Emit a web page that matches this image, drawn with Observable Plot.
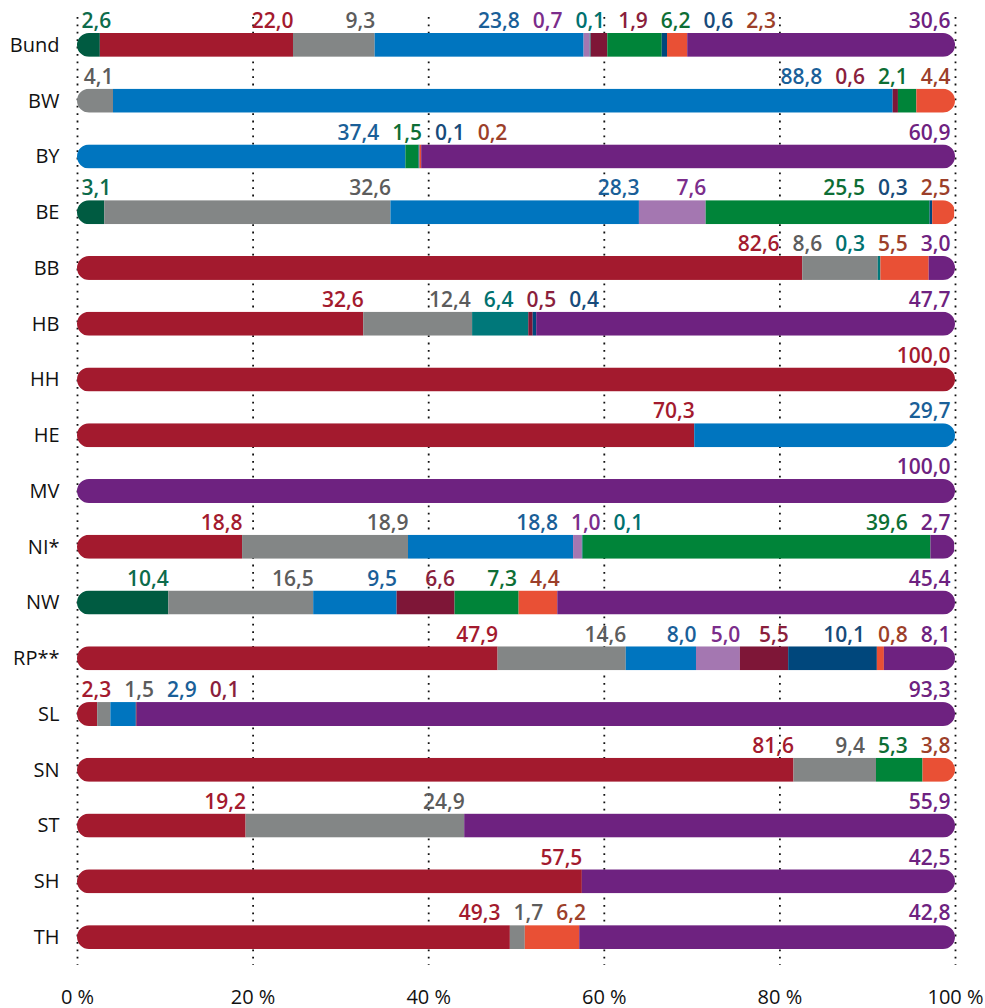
<!DOCTYPE html>
<html>
<head>
<meta charset="utf-8">
<script src="https://cdn.jsdelivr.net/npm/d3@7"></script>
<script src="https://cdn.jsdelivr.net/npm/@observablehq/plot@0.6"></script>
<style>
  html, body { margin: 0; padding: 0; background: #fff; }
  #chart { width: 985px; height: 1008px; }
</style>
</head>
<body>
<div id="chart"></div>
<script>
// ---------- data ----------
const states = ["Bund","BW","BY","BE","BB","HB","HH","HE","MV","NI*","NW","RP**","SL","SN","ST","SH","TH"];

// one array per series (share in %), in stacking order, null = not present
const sDunkelgruen = [2.6, null, null, 3.1, null, null, null, null, null, null, 10.4, null, null, null, null, null, null];
const sRot         = [22.0, null, null, null, 82.6, 32.6, 100.0, 70.3, null, 18.8, null, 47.9, 2.3, 81.6, 19.2, 57.5, 49.3];
const sGrau        = [9.3, 4.1, null, 32.6, 8.6, 12.4, null, null, null, 18.9, 16.5, 14.6, 1.5, 9.4, 24.9, null, 1.7];
const sBlau        = [23.8, 88.8, 37.4, 28.3, null, null, null, 29.7, null, 18.8, 9.5, 8.0, 2.9, null, null, null, null];
const sHelllila    = [0.7, null, null, 7.6, null, null, null, null, null, 1.0, null, 5.0, null, null, null, null, null];
const sPetrol      = [0.1, null, null, null, 0.3, 6.4, null, null, null, 0.1, null, null, null, null, null, null, null];
const sBordeaux    = [1.9, 0.6, null, null, null, 0.5, null, null, null, null, 6.6, 5.5, 0.1, null, null, null, null];
const sGruen       = [6.2, 2.1, 1.5, 25.5, null, null, null, null, null, 39.6, 7.3, null, null, 5.3, null, null, null];
const sDunkelblau  = [0.6, null, 0.1, 0.3, null, 0.4, null, null, null, null, null, 10.1, null, null, null, null, null];
const sOrange      = [2.3, 4.4, 0.2, 2.5, 5.5, null, null, null, null, null, 4.4, 0.8, null, 3.8, null, null, 6.2];
const sLila        = [30.6, null, 60.9, null, 3.0, 47.7, null, null, 100.0, 2.7, 45.4, 8.1, 93.3, null, 55.9, 42.5, 42.8];

const seriesValues = [sDunkelgruen, sRot, sGrau, sBlau, sHelllila, sPetrol, sBordeaux, sGruen, sDunkelblau, sOrange, sLila];
const barColors   = ["#005b41","#a31a2e","#838686","#0075bf","#a477b1","#00787a","#7e1637","#008439","#00477c","#e95035","#6e2280"];
const labelColors = ["#0d6b4b","#a31a2e","#5c5c5c","#1a5f98","#7b2d8b","#00716f","#8a1f3d","#0d6e35","#174b7a","#9c3f2a","#6e2280"];
const xTicks = [0, 20, 40, 60, 80, 100];

// ---------- layout constants ----------
const W = 985, H = 1008;
const M = {left: 77, right: 30, top: 17, bottom: 43};
const valueFont = 21, rowFont = 20, axisFont = 20;
const fontFamily = "'Open Sans', sans-serif";

// ---------- build segment table ----------
const segs = [];
states.forEach((st, i) => {
  let acc = 0;
  seriesValues.forEach((arr, k) => {
    const v = arr[i];
    if (v == null) return;
    segs.push({state: st, k, value: v, x1: acc, x2: acc + v, color: barColors[k], lcolor: labelColors[k]});
    acc += v;
  });
});

// ---------- label placement (1D, weighted least squares with spacing) ----------
const X = Plot.scale({x: {domain: [0, 100], range: [M.left, W - M.right]}});
const ctx = document.createElement("canvas").getContext("2d");
ctx.font = `600 ${valueFont}px ${fontFamily}`;
const fmt = v => v.toFixed(1).replace(".", ",");
const gap = 13, padL = 4, padR = 5;

function isotonic(y, w) {
  const blocks = [];
  for (let i = 0; i < y.length; i++) {
    blocks.push({v: y[i], w: w[i], n: 1});
    while (blocks.length > 1 && blocks[blocks.length - 2].v > blocks[blocks.length - 1].v) {
      const b = blocks.pop(), a = blocks.pop();
      const ww = a.w + b.w;
      blocks.push({v: (a.v * a.w + b.v * b.w) / ww, w: ww, n: a.n + b.n});
    }
  }
  const out = [];
  for (const b of blocks) for (let j = 0; j < b.n; j++) out.push(b.v);
  return out;
}

const labels = [];
states.forEach(st => {
  const row = segs.filter(d => d.state === st);
  const items = row.map(d => {
    const text = fmt(d.value);
    const w = ctx.measureText(text).width;
    const r = X.apply(Math.min(d.x2, 100));
    const sw = X.apply(Math.min(d.x2, 100)) - X.apply(d.x1);
    return {d, text, w, r, weight: sw >= w ? 5 : 1};
  });
  const c = [];
  items.forEach((it, i) => c.push(i === 0 ? 0 : c[i - 1] + it.w + gap));
  const q = items.map((it, i) => it.r - c[i]);
  let qs = isotonic(q, items.map(it => it.weight));
  const lo = X.apply(0) + padL + items[0].w;
  const hi = X.apply(100) - padR - c[c.length - 1];
  qs = qs.map(v => Math.max(lo, Math.min(hi, v)));
  items.forEach((it, i) => {
    labels.push({state: st, text: it.text, x: X.invert(qs[i] + c[i]), color: it.d.lcolor});
  });
});

// ---------- plot ----------
const plot = Plot.plot({
  width: W, height: H,
  marginLeft: M.left, marginRight: M.right, marginTop: M.top, marginBottom: M.bottom,
  style: {fontFamily, background: "#fff", color: "#111", overflow: "visible"},
  x: {domain: [0, 100], axis: null},
  y: {domain: states, type: "band", paddingInner: 0.57, paddingOuter: 0.285, round: false, axis: null},
  color: {type: "identity"},
  marks: [
    Plot.ruleX(xTicks, {stroke: "#111", strokeWidth: 1.8, strokeDasharray: "1.8,5.6"}),
    Plot.barX(segs, {x1: "x1", x2: "x2", y: "state", fill: "color", inset: 0}),
    Plot.text(labels, {x: "x", y: "state", text: "text", fill: "color", textAnchor: "end", dy: -24,
      fontSize: valueFont, fontWeight: 600}),
    Plot.axisY({tickSize: 0, tickPadding: 18, fontSize: rowFont, label: null}),
    Plot.axisX({ticks: xTicks, tickFormat: d => `${d} %`, tickSize: 0, tickPadding: 24, fontSize: axisFont, label: null})
  ]
});

// rounded pill clip per row, using the plot's own scales
const xs = plot.scale("x"), ys = plot.scale("y");
const ns = "http://www.w3.org/2000/svg";
const defs = document.createElementNS(ns, "defs");
const cp = document.createElementNS(ns, "clipPath");
cp.setAttribute("id", "pill-clip");
cp.setAttribute("clipPathUnits", "userSpaceOnUse");
states.forEach(st => {
  const r = document.createElementNS(ns, "rect");
  const y0 = ys.apply(st), bw = ys.bandwidth;
  r.setAttribute("x", xs.apply(0));
  r.setAttribute("y", y0);
  r.setAttribute("width", xs.apply(100) - xs.apply(0));
  r.setAttribute("height", bw);
  r.setAttribute("rx", bw / 2);
  r.setAttribute("ry", bw / 2);
  cp.appendChild(r);
});
defs.appendChild(cp);
plot.insertBefore(defs, plot.firstChild);
const barGroup = plot.querySelector('g[aria-label="bar"]');
if (barGroup) barGroup.setAttribute("clip-path", "url(#pill-clip)");

document.getElementById("chart").appendChild(plot);
</script>
</body>
</html>
